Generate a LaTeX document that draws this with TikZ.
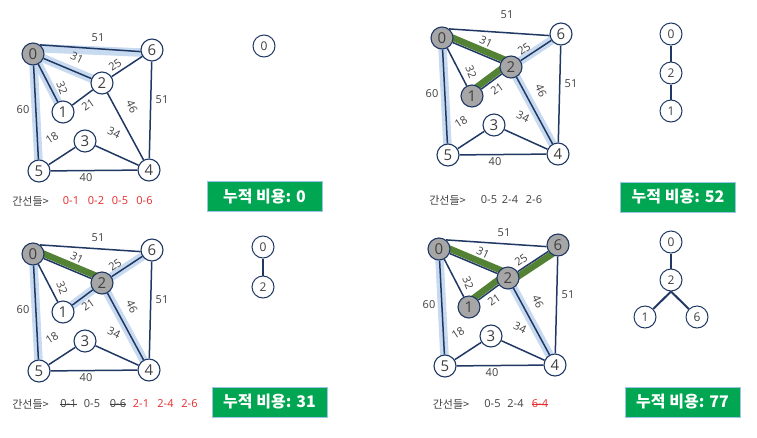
\documentclass[tikz,border=0pt]{standalone}
\usepackage{fontspec}
\setmainfont{Open Sans}
\newfontfamily\kr{Noto Sans CJK KR}
\usetikzlibrary{calc}
\definecolor{navy}{HTML}{203864}
\definecolor{txt}{HTML}{404040}
\definecolor{gfill}{HTML}{A6A6A6}
\definecolor{qblue}{HTML}{C8DAF0}
\definecolor{mgreen}{HTML}{548235}
\definecolor{boxgreen}{HTML}{00A651}
\definecolor{boxedge}{HTML}{9DC3E6}
\definecolor{redtxt}{HTML}{E52B2B}
\tikzset{
  vtx/.style={circle,draw=navy,line width=1.1pt,fill=white,minimum size=22pt,inner sep=0pt,font=\fontsize{15}{15}\selectfont,text=txt},
  gvtx/.style={vtx,fill=gfill},
  tvtx/.style={circle,draw=navy,line width=1pt,fill=white,minimum size=22pt,inner sep=0pt,font=\fontsize{12}{12}\selectfont,text=txt},
  edge/.style={draw=navy,line width=1.5pt},
  tedge/.style={draw=navy,line width=2pt},
  lbl/.style={font=\fontsize{11}{11}\selectfont,text=txt,inner sep=0pt},
  klbl/.style={font=\kr\fontsize{11}{11}\selectfont,text=txt,inner sep=0pt},
  rlbl/.style={lbl,text=redtxt},
  qband/.style={line width=8.5pt,draw=qblue},
  mband/.style={line width=6.5pt,draw=mgreen},
  strike/.style={line width=0.9pt},
  costbox/.style={fill=boxgreen,draw=boxedge,line width=1pt,minimum width=115pt,minimum height=30pt,inner sep=0pt,text=white,font=\kr\bfseries\fontsize{16}{16}\selectfont},
}
% #1 prefix, #2,#3 shift, #4 #5 #6 #7 styles of nodes 0,1,2,6, #8 bands, #9 y of top label
\newcommand\kgraph[9]{%
\begin{scope}[shift={(#2,#3)}]
  \coordinate (#1-0) at (33,54);
  \coordinate (#1-6) at (152,50);
  \coordinate (#1-2) at (102,83);
  \coordinate (#1-1) at (63,112);
  \coordinate (#1-3) at (85,141);
  \coordinate (#1-5) at (39,171);
  \coordinate (#1-4) at (149,170);
  #8
  \node[#4] (#1n0) at (#1-0) {0};
  \node[#5] (#1n1) at (#1-1) {1};
  \node[#6] (#1n2) at (#1-2) {2};
  \node[#7] (#1n6) at (#1-6) {6};
  \node[vtx] (#1n3) at (#1-3) {3};
  \node[vtx] (#1n4) at (#1-4) {4};
  \node[vtx] (#1n5) at (#1-5) {5};
  \draw[edge] (#1n0.52) -- (#1n6.188);
  \draw[edge] (#1n0) -- (#1n2);
  \draw[edge] (#1n0) -- (#1n1);
  \draw[edge] (#1n0) -- (#1n5);
  \draw[edge] (#1n2) -- (#1n6);
  \draw[edge] (#1n2) -- (#1n1);
  \draw[edge] (#1n2) -- (#1n4);
  \draw[edge] (#1n6) -- (#1n4);
  \draw[edge] (#1n3) -- (#1n5);
  \draw[edge] (#1n3) -- (#1n4);
  \draw[edge] (#1n5) -- (#1n4);
  \node[lbl] (#1w06) at (98,#9) {51};
  \node[lbl,rotate=-25] (#1w02) at (77,58) {31};
  \node[lbl,rotate=35] (#1w26) at (115,65) {25};
  \node[lbl,rotate=-68] (#1w01) at (62,88) {32};
  \node[lbl,rotate=35] (#1w21) at (88,105) {21};
  \node[lbl,rotate=-65] (#1w24) at (132,107) {46};
  \node[lbl] (#1w64) at (162,100) {51};
  \node[lbl] (#1w05) at (23,110) {60};
  \node[lbl,rotate=33] (#1w35) at (52,138) {18};
  \node[lbl,rotate=-25] (#1w34) at (114,133) {34};
  \node[lbl] (#1w54) at (86,178) {40};
\end{scope}}
\begin{document}
\begin{tikzpicture}[x=1pt,y=-1pt]
\fill[white] (0,0) rectangle (757,437);
\useasboundingbox (0,0) rectangle (757,437);

% ---------- panel 1 (top left)
\kgraph{a}{0}{0}{gvtx}{vtx}{vtx}{vtx}{%
  \draw[qband] ($(a-0)+(2,-6)$) -- ($(a-6)+(0,3)$);
  \draw[qband] (a-0) -- (a-2);
  \draw[qband] (a-0) -- (a-1);
  \draw[qband] (a-0) -- (a-5);
}{38}
\node[klbl] (a-h) at (30.5,201) {간선들>};
\node[rlbl] (a-e1) at (71,201) {0-1};
\node[rlbl] (a-e2) at (96,201) {0-2};
\node[rlbl] (a-e3) at (120,201) {0-5};
\node[rlbl] (a-e4) at (144.5,201) {0-6};
\node[costbox] (a-box) at (264.5,196.5) {누적 비용: 0};
\node[tvtx] (a-t0) at (264,46) {0};

% ---------- panel 2 (bottom left)
\kgraph{b}{0}{200}{gvtx}{vtx}{gvtx}{vtx}{%
  \draw[qband] (b-0) -- (b-5);
  \draw[qband] (b-2) -- (b-1);
  \draw[qband] (b-2) -- (b-4);
  \draw[qband] (b-2) -- (b-6);
  \draw[mband,transform canvas={shift={(1.7,-4.0)}}] (b-0) -- (b-2);
}{38}
\node[klbl] (b-h) at (30.5,404) {간선들>};
\node[lbl] (b-e1) at (68.5,404) {0-1};
\node[lbl] (b-e2) at (92,404) {0-5};
\node[lbl] (b-e3) at (118,404) {0-6};
\node[rlbl] (b-e4) at (141,404) {2-1};
\node[rlbl] (b-e5) at (165.5,404) {2-4};
\node[rlbl] (b-e6) at (189.5,404) {2-6};
\draw[strike,txt] (b-e1.west) -- (b-e1.east);
\draw[strike,txt] (b-e3.west) -- (b-e3.east);
\node[costbox] (b-box) at (269.5,402) {누적 비용: 31};
\node[tvtx] (b-t0) at (263,247) {0};
\node[tvtx] (b-t2) at (263,287) {2};
\draw[tedge] (b-t0) -- (b-t2);

% ---------- panel 3 (top right)
\kgraph{c}{409}{-16}{gvtx}{gvtx}{gvtx}{vtx}{%
  \draw[qband] (c-0) -- (c-5);
  \draw[qband] (c-2) -- (c-6);
  \draw[qband] (c-2) -- (c-4);
  \draw[mband,transform canvas={shift={(1.7,-4.0)}}] (c-0) -- (c-2);
  \draw[mband,transform canvas={shift={(-2.6,-3.5)}}] (c-1) -- (c-2);
}{31}
\node[klbl] (c-h) at (447.5,200) {간선들>};
\node[lbl] (c-e1) at (489,200) {0-5};
\node[lbl] (c-e2) at (510,200) {2-4};
\node[lbl] (c-e3) at (534,200) {2-6};
\node[costbox] (c-box) at (678,197) {누적 비용: 52};
\node[tvtx] (c-t0) at (671,34) {0};
\node[tvtx] (c-t2) at (671,73) {2};
\node[tvtx] (c-t1) at (671,111) {1};
\draw[tedge] (c-t0) -- (c-t2);
\draw[tedge] (c-t2) -- (c-t1);

% ---------- panel 4 (bottom right)
\kgraph{d}{406}{195}{gvtx}{gvtx}{gvtx}{gvtx}{%
  \draw[qband] (d-0) -- (d-5);
  \draw[qband] (d-2) -- (d-4);
  \draw[mband,transform canvas={shift={(1.7,-4.0)}}] (d-0) -- (d-2);
  \draw[mband,transform canvas={shift={(-2.6,-3.5)}}] (d-1) -- (d-2);
  \draw[mband,transform canvas={shift={(2.5,3.5)}}] (d-2) -- (d-6);
}{38}
\node[klbl] (d-h) at (451,404) {간선들>};
\node[lbl] (d-e1) at (492.5,404) {0-5};
\node[lbl] (d-e2) at (515.5,404) {2-4};
\node[rlbl] (d-e3) at (540,404) {6-4};
\draw[strike,redtxt] (d-e3.west) -- (d-e3.east);
\node[costbox] (d-box) at (682.5,402) {누적 비용: 77};
\node[tvtx] (d-t0) at (671,242) {0};
\node[tvtx] (d-t2) at (671,280) {2};
\node[tvtx] (d-t1) at (645,317) {1};
\node[tvtx] (d-t6) at (697,317) {6};
\draw[tedge] (d-t0) -- (d-t2);
\draw[tedge] (d-t2.south) -- (d-t1);
\draw[tedge] (d-t2.south) -- (d-t6);
\end{tikzpicture}
\end{document}
